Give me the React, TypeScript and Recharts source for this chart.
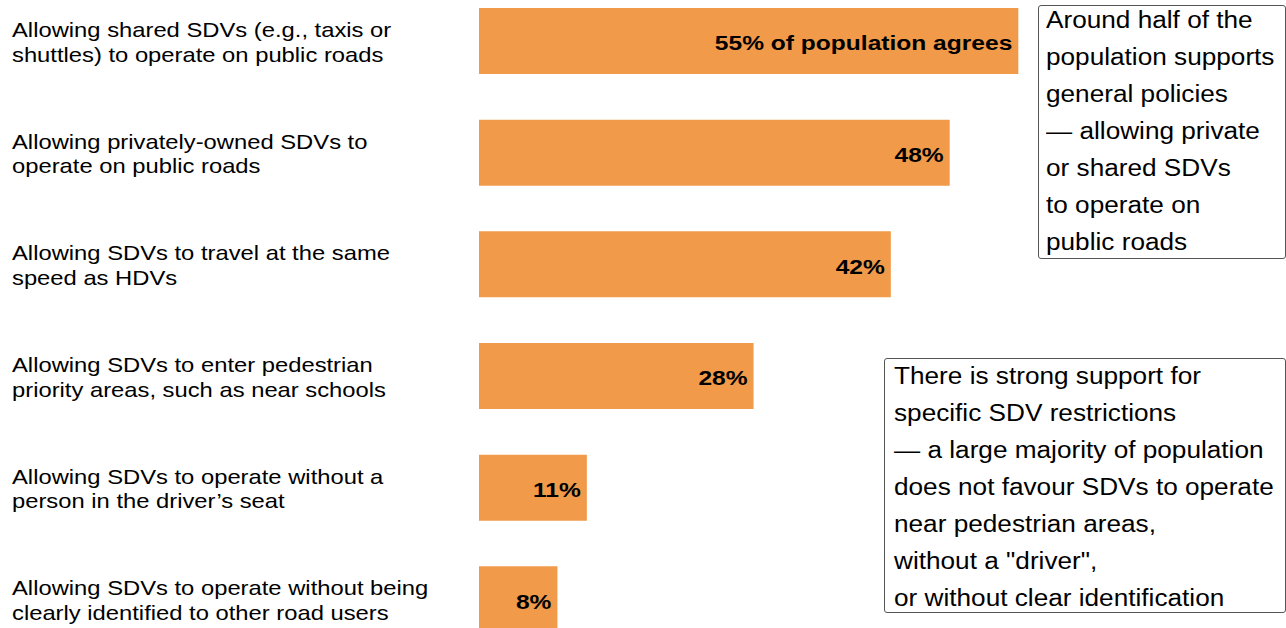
import React from 'react'
import { BarChart, Bar, XAxis, YAxis, LabelList } from 'recharts'

// Policy statements (two lines each, as in the source)
const policyLines = [
  ['Allowing shared SDVs (e.g., taxis or', 'shuttles) to operate on public roads'],
  ['Allowing privately-owned SDVs to', 'operate on public roads'],
  ['Allowing SDVs to travel at the same', 'speed as HDVs'],
  ['Allowing SDVs to enter pedestrian', 'priority areas, such as near schools'],
  ['Allowing SDVs to operate without a', 'person in the driver\u2019s seat'],
  ['Allowing SDVs to operate without being', 'clearly identified to other road users'],
]

// share of population that agrees (%)
const agreeShare = [55, 48, 42, 28, 11, 8]

const barLabels = ['55% of population agrees', '48%', '42%', '28%', '11%', '8%']

const noteGeneral = [
  'Around half of the',
  'population supports',
  'general policies',
  '\u2014 allowing private',
  'or shared SDVs',
  'to operate on',
  'public roads',
]

const noteRestrictions = [
  'There is strong support for',
  'specific SDV restrictions',
  '\u2014 a large majority of population',
  'does not favour SDVs to operate',
  'near pedestrian areas,',
  'without a "driver",',
  'or without clear identification',
]

const data = policyLines.map((lines, i) => ({
  id: String(i),
  value: agreeShare[i],
  label: barLabels[i],
}))

const FONT = '"Liberation Sans", Arial, sans-serif'

const PolicyTick = (props: any) => {
  const { y, payload } = props
  const lines = policyLines[Number(payload.value)]
  return (
    <text
      transform={`translate(12, ${y}) scale(1.133, 1)`}
      fill="#000"
      fontSize={21}
      fontFamily={FONT}
      textAnchor="start"
    >
      <tspan x={0} dy={-4}>{lines[0]}</tspan>
      <tspan x={0} dy={25}>{lines[1]}</tspan>
    </text>
  )
}

const BarValue = (props: any) => {
  const { x, y, width, height, value } = props
  return (
    <text
      transform={`translate(${x + width - 6}, ${y + height / 2 + 2}) scale(1.17, 1)`}
      textAnchor="end"
      dominantBaseline="central"
      fontSize={21}
      fontWeight="bold"
      fontFamily={FONT}
      fill="#000"
    >
      {value}
    </text>
  )
}

const Note = ({ box, textPos, lines }: any) => (
  <>
    <div
      style={{
        position: 'absolute',
        left: box[0],
        top: box[1],
        width: box[2],
        height: box[3],
        boxSizing: 'border-box',
        border: '1px solid #555',
        borderRadius: 3,
        background: '#fff',
      }}
    />
    <div
      style={{
        position: 'absolute',
        left: textPos[0],
        top: textPos[1],
        fontFamily: FONT,
        fontSize: 23,
        lineHeight: '37px',
        color: '#000',
        whiteSpace: 'nowrap',
        transform: 'scaleX(1.138)',
        transformOrigin: 'left top',
      }}
    >
      {lines.map((l: string) => (
        <div key={l}>{l}</div>
      ))}
    </div>
  </>
)

export default function App() {
  return (
    <div style={{ position: 'absolute', left: 0, top: 0, width: 1286, height: 628, overflow: 'hidden', background: '#fff' }}>
      <div style={{ position: 'absolute', left: 0, top: -15 }}>
        <BarChart
          width={1286}
          height={670}
          data={data}
          layout="vertical"
          margin={{ top: 0, right: 0, left: 0, bottom: 0 }}
          barCategoryGap={0}
        >
          <XAxis type="number" domain={[0, 82.3]} hide />
          <YAxis
            type="category"
            dataKey="id"
            width={479}
            axisLine={false}
            tickLine={false}
            tick={<PolicyTick />}
            interval={0}
          />
          <Bar dataKey="value" fill="#F09A4A" barSize={66} isAnimationActive={false}>
            <LabelList dataKey="label" content={<BarValue />} />
          </Bar>
        </BarChart>
      </div>
      <Note box={[1038, 5, 248, 254]} textPos={[1046, 1.5]} lines={noteGeneral} />
      <Note box={[884, 358, 402, 255]} textPos={[894, 358]} lines={noteRestrictions} />
    </div>
  )
}
